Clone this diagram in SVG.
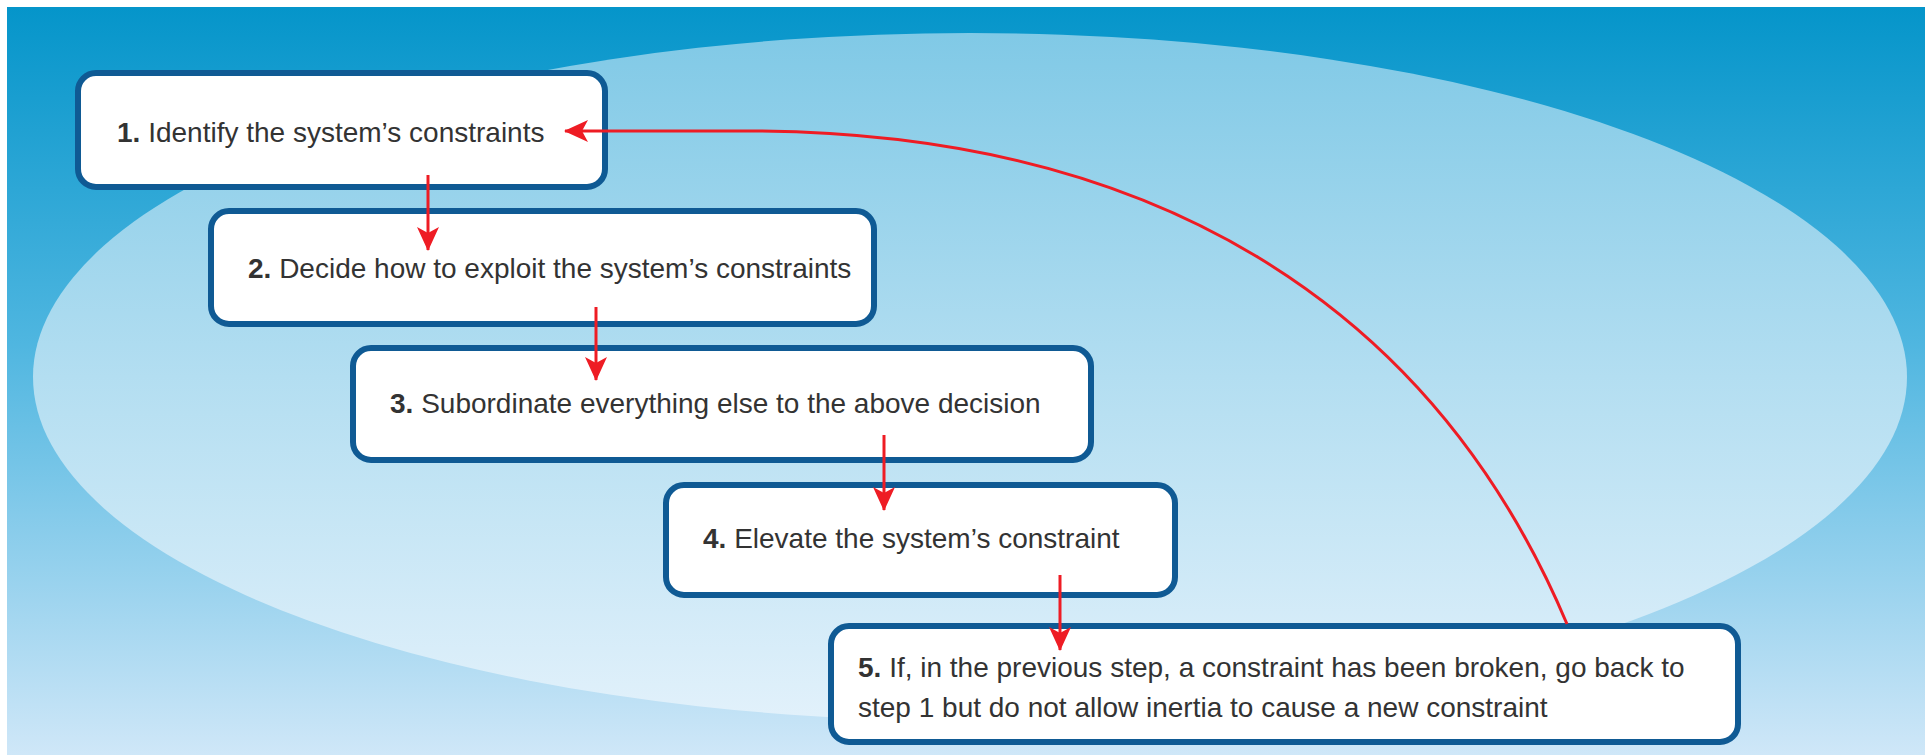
<svg xmlns="http://www.w3.org/2000/svg" width="1932" height="755" viewBox="0 0 1932 755">
  <defs>
    <linearGradient id="bgGrad" x1="0" y1="0" x2="0" y2="1">
      <stop offset="0" stop-color="#0595ca"/>
      <stop offset="0.45" stop-color="#4fb6e0"/>
      <stop offset="1" stop-color="#cfe7f8"/>
    </linearGradient>
    <linearGradient id="ovalGrad" x1="0" y1="0" x2="0" y2="1">
      <stop offset="0" stop-color="#80c9e6"/>
      <stop offset="0.5" stop-color="#b3def1"/>
      <stop offset="1" stop-color="#e2f1fb"/>
    </linearGradient>
    <marker id="arrowHead" viewBox="0 0 24 22" refX="23" refY="11" markerWidth="24" markerHeight="22" orient="auto" markerUnits="userSpaceOnUse">
      <path d="M0,0 L24,11 L0,22 L6,11 Z" fill="#ee1c24"/>
    </marker>
    <style>
      .box { fill: #ffffff; stroke: #0f5a94; stroke-width: 6; }
      .label { font-family: "Liberation Sans", Arial, sans-serif; font-size: 28px; fill: #333333; }
      .num { font-weight: bold; }
      .link { fill: none; stroke: #ee1c24; stroke-width: 3; marker-end: url(#arrowHead); }
    </style>
  </defs>

  <!-- backdrop -->
  <rect x="0" y="0" width="1932" height="755" fill="#ffffff"/>
  <rect x="7" y="7" width="1918" height="748" fill="url(#bgGrad)"/>
  <ellipse cx="970" cy="377" rx="937" ry="344" fill="url(#ovalGrad)"/>

  <!-- steps -->
  <g id="step1">
    <rect class="box" x="78" y="73" width="527" height="114" rx="18"/>
    <text class="label" x="117" y="142"><tspan class="num">1.</tspan> Identify the system’s constraints</text>
  </g>
  <g id="step2">
    <rect class="box" x="211" y="211" width="663" height="113" rx="18"/>
    <text class="label" x="248" y="278"><tspan class="num">2.</tspan> Decide how to exploit the system’s constraints</text>
  </g>
  <g id="step3">
    <rect class="box" x="353" y="348" width="738" height="112" rx="18"/>
    <text class="label" x="390" y="413"><tspan class="num">3.</tspan> Subordinate everything else to the above decision</text>
  </g>
  <g id="step4">
    <rect class="box" x="666" y="485" width="509" height="110" rx="18"/>
    <text class="label" x="703" y="548"><tspan class="num">4.</tspan> Elevate the system’s constraint</text>
  </g>
  <g id="step5">
    <rect class="box" x="831" y="626" width="907" height="116" rx="18"/>
    <text class="label" x="858" y="677"><tspan class="num">5.</tspan> If, in the previous step, a constraint has been broken, go back to</text>
    <text class="label" x="858" y="717">step 1 but do not allow inertia to cause a new constraint</text>
  </g>

  <!-- connectors -->
  <g id="connectors">
    <line class="link" x1="428" y1="175" x2="428" y2="250"/>
    <line class="link" x1="596" y1="307" x2="596" y2="380"/>
    <line class="link" x1="884" y1="435" x2="884" y2="510"/>
    <line class="link" x1="1060" y1="575" x2="1060" y2="650"/>
    <!-- loop back from step 5 to step 1 -->
    <path class="link" d="M1567,624 C1430,300 1150,135 760,131 L565,131"/>
  </g>
</svg>
